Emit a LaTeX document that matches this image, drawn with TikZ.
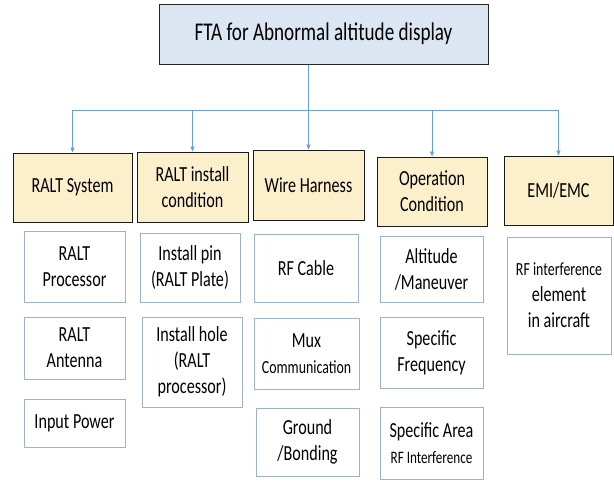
\documentclass[tikz,border=0pt]{standalone}
\usepackage{fontspec}
\setmainfont[FakeStretch=0.75]{Carlito}
\usetikzlibrary{arrows.meta}

\definecolor{topfill}{HTML}{DCE6F2}
\definecolor{catfill}{HTML}{FCEFCB}
\definecolor{subline}{HTML}{9DB2CC}
\definecolor{linkblue}{HTML}{6A9FD3}

\begin{document}
\begin{tikzpicture}[x=1pt,y=-1pt,
        topbox/.style={draw=black!85,line width=1pt,fill=topfill,inner sep=0pt,
                font=\fontsize{25.5}{30}\selectfont},
        catbox/.style={draw=black!90,line width=0.9pt,fill=catfill,inner sep=0pt,align=center,
                font=\fontsize{21.5}{26}\selectfont},
        subbox/.style={draw=subline,line width=0.8pt,fill=white,inner sep=0pt,align=center,
                font=\fontsize{21.5}{26}\selectfont},
        link/.style={draw=linkblue,line width=0.8pt,-{Triangle[length=5pt,width=4pt]}}]
        \useasboundingbox (0,0) rectangle (614,480);
        % top event
        \node[topbox,minimum width=329pt,minimum height=60pt] (fta) at (323.5,34) {FTA for Abnormal altitude display};
        % categories
        \node[catbox,minimum width=119pt,minimum height=69pt] (ralt) at (72.5,187.5) {RALT System};
        \node[catbox,minimum width=111pt,minimum height=70pt] (install) at (192.5,187) {RALT install\\condition};
        \node[catbox,minimum width=111pt,minimum height=70pt] (wire) at (308.5,185) {Wire Harness};
        \node[catbox,minimum width=110pt,minimum height=69pt] (oper) at (432,191.5) {Operation\\Condition};
        \node[catbox,minimum width=109pt,minimum height=69pt] (emi) at (558.5,190.5) {EMI/EMC};
        % causes
        \node[subbox,minimum width=101pt,minimum height=71pt] (proc) at (74.5,266.5) {RALT\\Processor};
        \node[subbox,minimum width=101pt,minimum height=62pt] (ant) at (74.5,348) {RALT\\Antenna};
        \node[subbox,minimum width=101pt,minimum height=48pt] (power) at (74.5,423) {Input Power};
        \node[subbox,minimum width=100pt,minimum height=69pt] (pin) at (190,267.5) {Install pin\\(RALT Plate)};
        \node[subbox,minimum width=100pt,minimum height=90pt] (hole) at (192,362) {Install hole\\(RALT\\processor)};
        \node[subbox,minimum width=104pt,minimum height=68pt] (cable) at (306,268) {RF Cable};
        \node[subbox,minimum width=105pt,minimum height=71pt] (mux) at (306.5,353.5) {Mux\\{\fontsize{18.5}{22}\selectfont Communication}};
        \node[subbox,minimum width=103pt,minimum height=68pt] (ground) at (307.5,442) {Ground\\/Bonding};
        \node[subbox,minimum width=103pt,minimum height=66pt] (alt) at (431.5,269) {Altitude\\/Maneuver};
        \node[subbox,minimum width=103pt,minimum height=71pt] (freq) at (431.5,352.5) {Specific\\Frequency};
        \node[subbox,minimum width=103pt,minimum height=72pt] (area) at (431.5,443) {Specific Area\\{\fontsize{17.5}{21}\selectfont RF Interference}};
        \node[subbox,minimum width=104pt,minimum height=117pt] (rfi) at (559,295.5) {{\fontsize{18.5}{22}\selectfont RF interference}\\element\\in aircraft};
        % connectors
        \coordinate (split) at (308.5,110);
        \draw[link] (split |- fta.south) -- (wire);
        \draw[link] (split) -| (ralt);
        \draw[link] (split) -| (install);
        \draw[link] (split) -| (oper);
        \draw[link] (split) -| (emi);
\end{tikzpicture}
\end{document}
